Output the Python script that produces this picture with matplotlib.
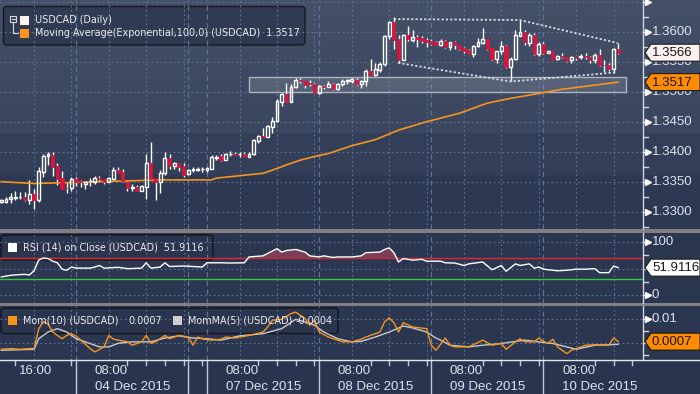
import matplotlib
matplotlib.use("Agg")
import matplotlib.pyplot as plt
import matplotlib.transforms as mtransforms
from matplotlib.patches import Rectangle, Polygon, FancyBboxPatch
import numpy as np

# hourly USDCAD candles
opens = [1.3317, 1.3317, 1.3322, 1.3324, 1.3325, 1.3325, 1.3320, 1.3331, 1.3320, 1.3368,
         1.3394, 1.3396, 1.3377, 1.3357, 1.3341, 1.3340, 1.3355, 1.3352, 1.3348, 1.3352,
         1.3351, 1.3358, 1.3355, 1.3351, 1.3356, 1.3371, 1.3367, 1.3351, 1.3341, 1.3343,
         1.3336, 1.3343, 1.3382, 1.3357, 1.3351, 1.3365, 1.3391, 1.3378, 1.3382, 1.3377,
         1.3364, 1.3371, 1.3371, 1.3373, 1.3371, 1.3373, 1.3391, 1.3394, 1.3388, 1.3398,
         1.3398, 1.3397, 1.3397, 1.3393, 1.3397, 1.3419, 1.3427, 1.3426, 1.3443, 1.3452,
         1.3484, 1.3497, 1.3484, 1.3508, 1.3521, 1.3518, 1.3515, 1.3513, 1.3498, 1.3510,
         1.3509, 1.3514, 1.3505, 1.3513, 1.3519, 1.3518, 1.3521, 1.3514, 1.3518, 1.3536,
         1.3529, 1.3537, 1.3547, 1.3593, 1.3617, 1.3588, 1.3554, 1.3596, 1.3587, 1.3592,
         1.3591, 1.3587, 1.3586, 1.3583, 1.3579, 1.3586, 1.3575, 1.3583, 1.3579, 1.3573,
         1.3571, 1.3564, 1.3577, 1.3582, 1.3588, 1.3573, 1.3556, 1.3568, 1.3577, 1.3542,
         1.3555, 1.3594, 1.3600, 1.3582, 1.3596, 1.3564, 1.3581, 1.3566, 1.3568, 1.3555,
         1.3561, 1.3558, 1.3553, 1.3559, 1.3558, 1.3561, 1.3559, 1.3553, 1.3562, 1.3546,
         1.3546, 1.3538, 1.3572]
highs = [1.3323, 1.3325, 1.3332, 1.3336, 1.3334, 1.3334, 1.3354, 1.3339, 1.3376, 1.3398,
         1.3401, 1.3400, 1.3383, 1.3369, 1.3350, 1.3359, 1.3359, 1.3354, 1.3353, 1.3357,
         1.3360, 1.3360, 1.3356, 1.3359, 1.3376, 1.3375, 1.3372, 1.3352, 1.3348, 1.3346,
         1.3346, 1.3398, 1.3417, 1.3358, 1.3371, 1.3400, 1.3398, 1.3384, 1.3383, 1.3382,
         1.3373, 1.3375, 1.3375, 1.3376, 1.3376, 1.3395, 1.3396, 1.3397, 1.3399, 1.3403,
         1.3401, 1.3401, 1.3401, 1.3401, 1.3422, 1.3429, 1.3440, 1.3445, 1.3459, 1.3489,
         1.3498, 1.3516, 1.3514, 1.3523, 1.3524, 1.3519, 1.3521, 1.3515, 1.3512, 1.3512,
         1.3518, 1.3516, 1.3516, 1.3522, 1.3522, 1.3523, 1.3523, 1.3521, 1.3538, 1.3555,
         1.3549, 1.3551, 1.3596, 1.3619, 1.3625, 1.3596, 1.3597, 1.3611, 1.3603, 1.3596,
         1.3593, 1.3590, 1.3588, 1.3586, 1.3588, 1.3587, 1.3584, 1.3585, 1.3579, 1.3576,
         1.3572, 1.3578, 1.3591, 1.3607, 1.3589, 1.3574, 1.3569, 1.3586, 1.3579, 1.3559,
         1.3603, 1.3621, 1.3603, 1.3599, 1.3599, 1.3583, 1.3583, 1.3571, 1.3569, 1.3562,
         1.3566, 1.3559, 1.3561, 1.3559, 1.3563, 1.3565, 1.3561, 1.3566, 1.3572, 1.3553,
         1.3549, 1.3573, 1.3582]
lows = [1.3316, 1.3315, 1.3316, 1.3321, 1.3323, 1.3319, 1.3314, 1.3305, 1.3318, 1.3359,
        1.3379, 1.3360, 1.3346, 1.3339, 1.3332, 1.3335, 1.3344, 1.3343, 1.3339, 1.3344,
        1.3348, 1.3353, 1.3348, 1.3350, 1.3354, 1.3365, 1.3350, 1.3336, 1.3335, 1.3335,
        1.3335, 1.3323, 1.3356, 1.3320, 1.3333, 1.3362, 1.3373, 1.3373, 1.3369, 1.3359,
        1.3362, 1.3368, 1.3369, 1.3368, 1.3368, 1.3372, 1.3388, 1.3386, 1.3387, 1.3394,
        1.3395, 1.3393, 1.3392, 1.3392, 1.3395, 1.3416, 1.3425, 1.3425, 1.3432, 1.3451,
        1.3477, 1.3484, 1.3484, 1.3507, 1.3516, 1.3507, 1.3511, 1.3498, 1.3497, 1.3506,
        1.3508, 1.3504, 1.3503, 1.3511, 1.3514, 1.3516, 1.3512, 1.3507, 1.3511, 1.3528,
        1.3527, 1.3534, 1.3544, 1.3588, 1.3572, 1.3548, 1.3553, 1.3586, 1.3584, 1.3576,
        1.3582, 1.3576, 1.3579, 1.3578, 1.3577, 1.3574, 1.3571, 1.3572, 1.3571, 1.3566,
        1.3563, 1.3558, 1.3575, 1.3581, 1.3571, 1.3554, 1.3549, 1.3563, 1.3540, 1.3518,
        1.3554, 1.3593, 1.3579, 1.3577, 1.3562, 1.3561, 1.3564, 1.3565, 1.3553, 1.3554,
        1.3557, 1.3551, 1.3549, 1.3554, 1.3555, 1.3555, 1.3549, 1.3548, 1.3544, 1.3534,
        1.3536, 1.3532, 1.3563]
closes = [1.3321, 1.3322, 1.3325, 1.3326, 1.3325, 1.3320, 1.3331, 1.3320, 1.3369, 1.3394,
          1.3397, 1.3376, 1.3356, 1.3339, 1.3340, 1.3355, 1.3351, 1.3350, 1.3351, 1.3353,
          1.3357, 1.3355, 1.3351, 1.3357, 1.3371, 1.3366, 1.3352, 1.3340, 1.3343, 1.3336,
          1.3344, 1.3382, 1.3356, 1.3351, 1.3365, 1.3390, 1.3377, 1.3382, 1.3375, 1.3362,
          1.3371, 1.3373, 1.3373, 1.3373, 1.3374, 1.3393, 1.3393, 1.3387, 1.3398, 1.3398,
          1.3396, 1.3397, 1.3393, 1.3397, 1.3421, 1.3427, 1.3426, 1.3444, 1.3452, 1.3486,
          1.3497, 1.3484, 1.3508, 1.3521, 1.3518, 1.3512, 1.3513, 1.3498, 1.3511, 1.3508,
          1.3514, 1.3505, 1.3514, 1.3519, 1.3520, 1.3522, 1.3514, 1.3519, 1.3536, 1.3528,
          1.3538, 1.3547, 1.3594, 1.3617, 1.3587, 1.3553, 1.3596, 1.3588, 1.3592, 1.3589,
          1.3586, 1.3583, 1.3581, 1.3579, 1.3586, 1.3575, 1.3583, 1.3578, 1.3572, 1.3568,
          1.3564, 1.3577, 1.3583, 1.3588, 1.3572, 1.3555, 1.3568, 1.3577, 1.3542, 1.3555,
          1.3596, 1.3600, 1.3583, 1.3596, 1.3564, 1.3581, 1.3566, 1.3569, 1.3554, 1.3561,
          1.3558, 1.3552, 1.3558, 1.3557, 1.3561, 1.3558, 1.3553, 1.3562, 1.3546, 1.3545,
          1.3539, 1.3572, 1.3566]

# EMA(100) read at a set of candles
ema_idx = [0, 7, 21, 34, 45, 46, 51, 56, 59, 61, 64, 67, 70, 75, 80, 85, 91, 98, 104, 109, 115, 120, 126, 132]
ema_val = [1.3351, 1.3348, 1.3351, 1.3354, 1.3354, 1.3357, 1.3361, 1.3365, 1.3373, 1.3379, 1.3387, 1.3393,
           1.3398, 1.3411, 1.3421, 1.3437, 1.3451, 1.3465, 1.3482, 1.3490, 1.3498, 1.3505, 1.3511, 1.3517]

rsi_idx = [0, 2, 4, 5, 6, 7, 8, 9, 10, 11, 12, 13, 14, 15, 16, 19, 20, 21, 22, 25, 27, 30, 31, 32, 34, 35, 36,
           39, 43, 44, 47, 49, 52, 53, 56, 59, 60, 61, 63, 65, 66, 68, 69, 71, 72, 75, 77, 78, 81, 82, 83, 84,
           85, 86, 88, 90, 91, 94, 95, 97, 99, 100, 103, 105, 107, 108, 110, 111, 113, 114, 115, 116, 119,
           121, 123, 125, 127, 128, 130, 131, 132]
rsi_val = [34.4, 37.5, 38.8, 39.4, 38.0, 46.0, 66.0, 70.0, 69.0, 64.0, 61.0, 49.0, 47.0, 53.0, 51.0, 51.0,
           53.0, 56.0, 51.0, 52.5, 50.0, 51.0, 61.0, 51.0, 53.0, 61.0, 54.0, 55.0, 53.0, 61.0, 61.0, 60.6,
           61.0, 72.0, 74.0, 87.5, 81.0, 84.0, 86.0, 81.0, 74.0, 72.0, 74.0, 71.0, 72.0, 72.0, 74.0, 80.0,
           81.0, 86.0, 89.0, 80.0, 62.5, 69.0, 66.0, 67.5, 64.0, 64.0, 61.0, 60.6, 56.0, 59.0, 62.5, 48.0,
           56.0, 45.0, 59.0, 56.0, 59.0, 51.0, 53.0, 49.0, 46.0, 47.0, 49.0, 49.0, 50.0, 42.5, 42.5, 55.0,
           51.9116]

mom_idx = [0, 2, 4, 6, 7, 8, 9, 10, 11, 13, 14, 15, 16, 17, 19, 20, 22, 23, 24, 25, 27, 28, 30, 31, 32, 33,
           35, 36, 38, 40, 41, 42, 43, 45, 47, 48, 50, 53, 56, 57, 58, 60, 62, 63, 65, 66, 67, 68, 70, 71,
           72, 73, 75, 77, 78, 81, 82, 83, 84, 85, 86, 88, 91, 92, 93, 95, 96, 97, 100, 103, 105, 107, 108,
           110, 111, 112, 114, 115, 116, 117, 118, 119, 121, 122, 123, 125, 127, 130, 131, 132]
mom_val = [-0.0025, -0.0022, -0.0025, -0.0022, -0.0022, 0.0060, 0.0090, 0.0080, 0.0047, 0.0019, 0.0033,
           0.0040, 0.0030, 0.0013, -0.0022, -0.0036, -0.0015, 0.0033, 0.0017, 0.0013, 0.0006, -0.0008,
           0.0006, 0.0033, 0.0000, 0.0006, 0.0033, 0.0019, 0.0033, 0.0026, -0.0008, 0.0026, 0.0019, 0.0013,
           0.0017, 0.0026, 0.0022, 0.0033, 0.0047, 0.0068, 0.0096, 0.0100, 0.0124, 0.0130, 0.0103, 0.0075,
           0.0096, 0.0047, 0.0026, 0.0019, 0.0013, 0.0006, 0.0006, 0.0017, 0.0026, 0.0047, 0.0089, 0.0106,
           0.0086, 0.0047, 0.0086, 0.0068, 0.0061, -0.0008, -0.0029, 0.0022, -0.0008, -0.0015, -0.0015,
           0.0013, -0.0008, 0.0000, -0.0025, 0.0006, 0.0019, 0.0006, 0.0006, 0.0022, 0.0008, 0.0000, 0.0017,
           -0.0015, -0.0043, -0.0029, -0.0022, -0.0008, -0.0006, -0.0008, 0.0022, 0.0007]

momma_idx = [0, 7, 8, 10, 12, 14, 16, 19, 21, 23, 25, 28, 32, 35, 38, 41, 44, 47, 51, 56, 60, 63, 65, 67,
             69, 72, 75, 77, 80, 83, 86, 88, 91, 93, 94, 96, 100, 103, 107, 110, 112, 115, 118, 121, 123,
             127, 130, 132]
momma_val = [-0.0029, -0.0025, 0.0019, 0.0047, 0.0061, 0.0047, 0.0019, -0.0001, -0.0015, -0.0015, 0.0000,
             0.0006, 0.0006, 0.0022, 0.0031, 0.0022, 0.0019, 0.0013, 0.0031, 0.0040, 0.0061, 0.0100, 0.0089,
             0.0075, 0.0047, 0.0019, 0.0006, 0.0008, 0.0026, 0.0047, 0.0072, 0.0064, 0.0047, 0.0022, 0.0013,
             -0.0008, -0.0015, -0.0008, -0.0001, 0.0008, 0.0013, 0.0006, -0.0001, -0.0015, -0.0025, -0.0008,
             -0.0006, -0.0004]

# drawn annotations (channel lines and box)
top_line_idx = [84.0, 110.9, 131.9]
top_line_val = [1.3622, 1.36205, 1.3582]
bot_line_idx = [84.9, 109.0, 131.3]
bot_line_val = [1.3549, 1.3518, 1.3533]
zone_idx = [53.05, 133.6]
zone_val = [1.3500, 1.3525]

price_ticks = [1.3300, 1.3350, 1.3400, 1.3450, 1.3500, 1.3550, 1.3600, 1.3650]
price_labels = ["1.3300", "1.3350", "1.3400", "1.3450", "1.3500", "1.3550", "1.3600", ""]
day_starts = [16, 40, 44, 68, 92, 116]
grid_hours = [7, 15, 23, 31, 39, 51, 59, 67, 75, 83, 91, 99, 107, 115, 123, 131]
hour_ticks = [3, 15, 27, 31, 35, 39, 43, 55, 59, 63, 67, 79, 83, 87, 91, 103, 107, 111, 115, 127, 131, 135]
date_pos = [20, 48, 72, 96, 120]
date_labels = ["04 Dec 2015", "07 Dec 2015", "08 Dec 2015", "09 Dec 2015", "10 Dec 2015"]

W, H = 700, 394
ORANGE = "#f7941d"
RED = "#dc143c"
GRID = "#5f7396"
AXTXT = "#dce4ef"
XLIM = (-0.28, 137.3)

fig = plt.figure(figsize=(W / 100, H / 100), dpi=100)


def px_axes(x0, y0, x1, y1, **kw):
    return fig.add_axes([x0 / W, 1 - y1 / H, (x1 - x0) / W, (y1 - y0) / H], **kw)


# background bands
bg = px_axes(0, 0, W, H, zorder=-10)
img = np.zeros((H, 1, 3))


def band(y0, y1, c0, c1=None):
    c1 = c0 if c1 is None else c1
    t = np.linspace(0, 1, y1 - y0)[:, None]
    img[y0:y1, 0, :] = (np.array(c0) * (1 - t) + np.array(c1) * t) / 255


band(0, 133, (68, 80, 104), (58, 70, 95))
band(133, 175, (51, 62, 88))
band(175, 229, (45, 56, 82))
band(229, 233, (128, 128, 130))
band(233, 303, (43, 54, 80))
band(303, 306, (128, 128, 130))
band(306, 360, (43, 54, 80))
band(360, 394, (41, 52, 78))
bg.imshow(img, aspect="auto", extent=(0, W, H, 0), interpolation="nearest")
bg.axis("off")

under = px_axes(0, 0, W, H, zorder=-5)
under.set_xlim(0, W)
under.set_ylim(H, 0)
under.axis("off")
under.patch.set_alpha(0)

main = px_axes(0, 0, 643, 229)
rsi_ax = px_axes(0, 233, 643, 302.5)
mom_ax = px_axes(0, 305.5, 643, 360)
main.set_ylim(1.32722, 1.36538)
rsi_ax.set_ylim(-13.5, 116.9)
mom_ax.set_ylim(-0.00696, 0.01575)

for ax in (main, rsi_ax, mom_ax):
    ax.set_xlim(*XLIM)
    ax.patch.set_alpha(0)
    ax.set_xticks([])
    ax.set_yticks([])
    for s in ("top", "left", "bottom"):
        ax.spines[s].set_visible(False)
    ax.spines["right"].set_color("#cfd6e0")
    ax.spines["right"].set_linewidth(1)
    for g in grid_hours:
        ax.axvline(g, color=GRID, lw=0.8, ls=(0, (1.5, 2.5)), zorder=0)
    for d in day_starts:
        ax.axvline(d, color=GRID, lw=0.9, ls=(0, (4, 3)), zorder=0)

for v in price_ticks:
    main.axhline(v, color=GRID, lw=0.8, ls=(0, (1.5, 2.5)), zorder=0)
for v in [0, 50, 100]:
    rsi_ax.axhline(v, color=GRID, lw=0.8, ls=(0, (1.5, 2.5)), zorder=0)
for v in [0, 0.01]:
    mom_ax.axhline(v, color=GRID, lw=0.8, ls=(0, (1.5, 2.5)), zorder=0)

# candles
for i, (o, h, l, c) in enumerate(zip(opens, highs, lows, closes)):
    top, bot = max(o, c), min(o, c)
    main.plot([i, i], [top, h], color="white", lw=1, zorder=2, solid_capstyle="butt")
    main.plot([i, i], [l, bot], color="white", lw=1, zorder=2, solid_capstyle="butt")
    if c >= o:
        main.add_patch(Rectangle((i - 0.3, bot), 0.6, top - bot, facecolor="none",
                                 edgecolor="white", lw=1, zorder=3))
    else:
        main.add_patch(Rectangle((i - 0.34, bot), 0.68, top - bot, facecolor=RED,
                                 edgecolor=RED, lw=0.5, zorder=3))

main.plot(ema_idx, ema_val, color=ORANGE, lw=1.2, zorder=2)

main.add_patch(Rectangle((zone_idx[0], zone_val[0]), zone_idx[1] - zone_idx[0], zone_val[1] - zone_val[0],
                         facecolor="white", alpha=0.13, edgecolor="none", zorder=1))
main.add_patch(Rectangle((zone_idx[0], zone_val[0]), zone_idx[1] - zone_idx[0], zone_val[1] - zone_val[0],
                         facecolor="none", edgecolor="#aeb5c0", lw=1, zorder=1))
main.plot(top_line_idx, top_line_val, color="#d8dce2", lw=1.3, ls=(0, (1.2, 1.2)), zorder=4)
main.plot(bot_line_idx, bot_line_val, color="#d8dce2", lw=1.3, ls=(0, (1.2, 1.2)), zorder=4)

# RSI
rsi_ax.axhline(70, color="#e3262d", lw=1, zorder=1)
rsi_ax.axhline(30, color="#2ecc40", lw=1, zorder=1)
r = np.array(rsi_val)
rsi_ax.fill_between(rsi_idx, r, 70, where=r > 70, interpolate=True, color="#7e3c55", lw=0, zorder=1)
rsi_ax.plot(rsi_idx, rsi_val, color="white", lw=1, zorder=2)

# momentum
mom_ax.plot(momma_idx, momma_val, color="#c9c9cc", lw=1, zorder=2)
mom_ax.plot(mom_idx, mom_val, color=ORANGE, lw=1, zorder=3)


def right_axis(ax, major, labels, minor):
    tr = mtransforms.blended_transform_factory(ax.transAxes, ax.transData)
    ax_w = ax.get_position().width * W
    for v, lab in zip(major, labels):
        ax.plot([1 + 5 / ax_w], [v], marker=">", ms=4.5, color="white", mec="white",
                transform=tr, clip_on=False)
        ax.plot([1, 1 + 5 / ax_w], [v, v], color="white", lw=1, transform=tr, clip_on=False)
        if lab:
            ax.text(1 + 9 / ax_w, v, lab, transform=tr, va="center", ha="left", fontsize=9.5,
                    color=AXTXT, family="Liberation Sans", clip_on=False)
    for v in minor:
        ax.plot([1, 1 + 5 / ax_w], [v, v], color="#cfd6e0", lw=1, transform=tr, clip_on=False)


right_axis(main, price_ticks, price_labels,
           [1.3275, 1.3325, 1.3375, 1.3425, 1.3475, 1.3525, 1.3575, 1.3625])
right_axis(rsi_ax, [100, 0], ["100", "0"], [75, 50, 25])
right_axis(mom_ax, [0.01], ["0.01"], [0.005, 0, -0.005])

# time axis
trb = mtransforms.blended_transform_factory(mom_ax.transData, fig.transFigure)
for t in hour_ticks:
    mom_ax.plot([t, t], [1 - 360 / H, 1 - 365 / H], color="#c4ccd8", lw=1, transform=trb, clip_on=False)
for d in day_starts:
    mom_ax.plot([d, d], [1 - 360 / H, 0], color="#c4ccd8", lw=1, transform=trb, clip_on=False)
mom_ax.text(7.3, 1 - 371 / H, "16:00", transform=trb, ha="center", va="center", fontsize=9.5,
            color=AXTXT, family="Liberation Sans")
for p, lab in zip(date_pos, date_labels):
    mom_ax.text(p, 1 - 371 / H, "08:00", transform=trb, ha="left", va="center", fontsize=9.5,
                color=AXTXT, family="Liberation Sans")
    mom_ax.text(p, 1 - 387 / H, lab, transform=trb, ha="left", va="center", fontsize=9.5,
                color=AXTXT, family="Liberation Sans")

# overlay for legends, value flags
over = px_axes(0, 0, W, H, zorder=10)
over.set_xlim(0, W)
over.set_ylim(H, 0)
over.axis("off")
over.patch.set_alpha(0)
over.plot([0, W], [359.8, 359.8], color="#e2e8f0", lw=1)

LEG = dict(fontsize=6.9, color="#ececec", family="DejaVu Sans", va="center", ha="left")


def legend_box(x0, y0, x1, y1):
    under.add_patch(FancyBboxPatch((x0, y0), x1 - x0, y1 - y0, boxstyle="round,pad=0,rounding_size=3",
                                   facecolor="#2a344c", alpha=0.75, edgecolor="#0b0b0b", lw=1))


legend_box(3.5, 6.5, 305, 45)
over.add_patch(Rectangle((10, 15.5), 6, 6, facecolor="none", edgecolor="#d8d8d8", lw=0.8))
over.plot([11.5, 14.5], [18.5, 18.5], color="#d8d8d8", lw=0.8)
over.plot([13, 13, 18], [21.5, 33, 33], color="#d8d8d8", lw=0.8)
over.add_patch(Rectangle((20, 15.5), 9, 9, facecolor="#fbf1ef", edgecolor="none"))
over.add_patch(Rectangle((20, 28.5), 9, 9, facecolor=ORANGE, edgecolor="none"))
over.text(35, 20, "USDCAD (Daily)", **LEG)
over.text(35, 33, "Moving Average(Exponential,100,0) (USDCAD)  %.4f" % ema_val[-1], **LEG)

legend_box(1, 235, 213, 260)
over.add_patch(Rectangle((8, 243), 9, 9, facecolor="white", edgecolor="none"))
over.text(23, 247.5, "RSI (14) on Close (USDCAD)  %.4f" % rsi_val[-1], **LEG)

legend_box(1, 308, 338, 333.5)
over.add_patch(Rectangle((8, 316), 9, 9, facecolor=ORANGE, edgecolor="none"))
over.text(23, 320.5, "Mom(10) (USDCAD)", **LEG)
over.text(128, 320.5, "%.4f" % mom_val[-1], **LEG)
over.add_patch(Rectangle((173, 316), 9, 9, facecolor="#cfcfd2", edgecolor="none"))
over.text(188, 320.5, "MomMA(5) (USDCAD)", **LEG)
over.text(296, 320.5, "%.4f" % momma_val[-1], **LEG)


def value_box(ax, v, text, face):
    yc = H - ax.transData.transform((0, v))[1]
    over.add_patch(Polygon([(645, yc), (651, yc - 8.5), (700, yc - 8.5), (700, yc + 8.5), (651, yc + 8.5)],
                           closed=True, facecolor=face, edgecolor="#1a1a1a", lw=0.8))
    over.text(652, yc + 0.5, text, va="center", ha="left", fontsize=9.5, color="#151515",
              family="Liberation Sans")


value_box(main, closes[-1], "%.4f" % closes[-1], "#fbf1ef")
value_box(main, ema_val[-1], "%.4f" % ema_val[-1], "#ff8c00")
value_box(rsi_ax, rsi_val[-1], "%.4f" % rsi_val[-1], "white")
value_box(mom_ax, mom_val[-1], "%.4f" % mom_val[-1], "#ff8c00")

fig.savefig("out.png", dpi=100)
